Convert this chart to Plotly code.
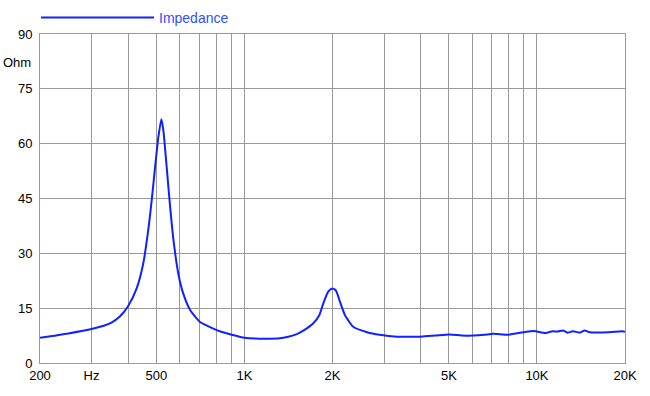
import numpy as np
import plotly.graph_objects as go

freq = [200, 250, 300, 321, 350, 375, 400, 428, 451, 469, 482, 495, 508, 520, 528, 542,
        557, 572, 594, 617, 652, 703, 750, 828, 900, 1000, 1190, 1322, 1400, 1509, 1600,
        1717, 1800, 1860, 1934, 1996, 2055, 2120, 2205, 2250, 2354, 2626, 2900, 3325,
        3620, 4010, 4500, 5030, 5530, 6080, 6600, 7090, 7990, 9120, 9740, 10700, 11300,
        11780, 12270, 12760, 13280, 13990, 14560, 15150, 17630, 19610, 20000]
imp = [6.9, 8.1, 9.3, 9.9, 11.0, 12.7, 15.5, 20.4, 27.3, 36.4, 44.6, 53.7, 61.9, 66.7,
       63.7, 53.7, 42.8, 33.6, 24.5, 19.1, 14.5, 11.3, 10.1, 8.6, 7.8, 6.9, 6.65, 6.75,
       7.1, 7.9, 9.0, 10.8, 13.0, 16.3, 19.5, 20.4, 19.8, 16.8, 13.1, 12.0, 9.9, 8.4, 7.7,
       7.2, 7.2, 7.2, 7.5, 7.8, 7.5, 7.5, 7.7, 8.0, 7.75, 8.5, 8.75, 8.2, 8.7, 8.6, 8.9,
       8.3, 8.7, 8.3, 8.9, 8.4, 8.4, 8.7, 8.5]

grid_freqs = [200, 300, 400, 500, 600, 700, 800, 900, 1000, 2000, 3000, 4000, 5000,
              6000, 7000, 8000, 9000, 10000, 20000]
tick_labels = {200: "200", 300: "Hz", 500: "500", 1000: "1K", 2000: "2K",
               5000: "5K", 10000: "10K", 20000: "20K"}
y_ticks = [0, 15, 30, 45, 60, 75, 90]

fig = go.Figure()
fig.add_trace(go.Scatter(x=freq, y=imp, mode="lines", name="Impedance",
                         line=dict(color="#1020ff", width=2, shape="spline", smoothing=0.6)))

fig.update_layout(
    width=650, height=396,
    margin=dict(l=40, r=25, t=34, b=33, autoexpand=False),
    paper_bgcolor="white", plot_bgcolor="white",
    font=dict(family="Liberation Sans, Arial, sans-serif", size=13, color="black"),
    showlegend=True,
    legend=dict(orientation="h", x=-4 / 585, xanchor="left", y=1.0, yanchor="bottom",
                itemwidth=113, font=dict(color="#3050ff", size=14),
                bgcolor="rgba(0,0,0,0)", borderwidth=0),
    xaxis=dict(type="log", range=[np.log10(200), np.log10(20000)],
               tickvals=grid_freqs,
               ticktext=[tick_labels.get(f, "") for f in grid_freqs],
               showgrid=True, gridcolor="#9a9a9a", gridwidth=1,
               showline=True, linecolor="#9a9a9a", mirror=True,
               ticks="", zeroline=False),
    yaxis=dict(range=[0, 90], tickvals=y_ticks,
               showgrid=True, gridcolor="#9a9a9a", gridwidth=1,
               showline=True, linecolor="#9a9a9a", mirror=True,
               ticks="", zeroline=False, ticklabelstandoff=4),
    annotations=[dict(text="Ohm", xref="paper", yref="y", x=-7 / 585, y=82.3,
                      xanchor="right", yanchor="middle", showarrow=False,
                      font=dict(size=13, color="black"))],
)

fig.write_html("out.html", config={"displayModeBar": False},
               post_script="document.body.style.margin='0px';document.body.style.overflow='hidden';")
